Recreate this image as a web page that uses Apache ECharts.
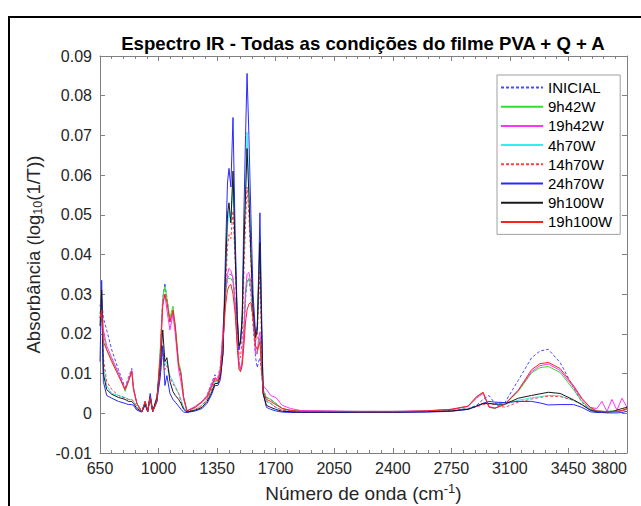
<!DOCTYPE html>
<html><head><meta charset="utf-8">
<script src="https://cdn.jsdelivr.net/npm/echarts@6/dist/echarts.min.js"></script>
<style>html,body{margin:0;padding:0;background:#fff}#c{width:641px;height:506px}</style>
</head><body><div id="c"></div>
<script>
// wavenumber grid (cm-1)
const wn = [
650,660,670,690,720,760,800,820,840,850,
870,900,920,935,950,965,990,1010,1025,1038,
1050,1068,1086,1100,1120,1134,1150,1170,1220,1260,
1290,1315,1337,1355,1370,1385,1400,1412,1421,1432,
1445,1458,1470,1481,1490,1500,1510,1520,1529,1540,
1552,1565,1580,1590,1598,1606,1614,1625,1645,1670,
1700,1740,1790,1850,2000,2200,2400,2600,2750,2850,
2900,2940,2975,3010,3070,3150,3230,3280,3330,3400,
3480,3530,3580,3620,3650,3680,3710,3740,3770,3800];

const inicial = [
0.027,0.029,0.024,0.021,0.016,0.011,0.0065,0.009,0.0113,0.006,
0.0025,0.0004,0.003,0.0005,0.0045,0.0005,0.003,0.015,0.029,0.0328,
0.029,0.023,0.0255,0.021,0.012,0.0095,0.004,0.0006,0.0015,0.003,
0.0045,0.0075,0.0097,0.009,0.012,0.02,0.03,0.034,0.035,0.035,
0.034,0.028,0.019,0.013,0.011,0.013,0.02,0.029,0.033,0.034,
0.030,0.022,0.014,0.0115,0.013,0.014,0.011,0.006,0.004,0.0035,
0.0025,0.0012,0.0007,0.0005,0.0005,0.0004,0.0004,0.0005,0.0008,0.0012,
0.002,0.0035,0.0045,0.0025,0.0027,0.0083,0.014,0.0157,0.0161,0.0128,
0.0065,0.0028,0.001,0.0005,0.0005,0.0004,0.0005,0.0004,0.0006,0.001];

const h9w42 = [
0.025,0.029,0.02,0.016,0.0135,0.010,0.0055,0.008,0.0105,0.0065,
0.0025,0.0004,0.003,0.0005,0.004,0.0005,0.003,0.016,0.029,0.032,
0.029,0.024,0.027,0.022,0.013,0.0105,0.004,0.0006,0.0015,0.003,
0.0042,0.0068,0.0088,0.0082,0.011,0.02,0.03,0.034,0.034,0.034,
0.033,0.027,0.018,0.012,0.0105,0.013,0.02,0.03,0.033,0.034,
0.032,0.025,0.016,0.015,0.017,0.019,0.013,0.006,0.004,0.0035,
0.0025,0.0012,0.0008,0.0006,0.0005,0.0005,0.0005,0.0006,0.001,0.0018,
0.004,0.0053,0.0015,0.0012,0.0022,0.0055,0.0102,0.0115,0.0118,0.0103,
0.006,0.003,0.0012,0.0006,0.0005,0.0005,0.0006,0.0005,0.0007,0.0012];

const h19w42 = [
0.027,0.028,0.021,0.017,0.014,0.0102,0.006,0.0085,0.0108,0.0065,
0.0025,0.0004,0.003,0.0005,0.004,0.0005,0.003,0.014,0.028,0.030,
0.026,0.021,0.025,0.02,0.011,0.008,0.0035,0.0006,0.0018,0.003,
0.0045,0.007,0.009,0.0085,0.0115,0.021,0.031,0.035,0.0365,0.036,
0.034,0.028,0.019,0.013,0.011,0.013,0.021,0.031,0.035,0.0355,
0.033,0.026,0.015,0.015,0.019,0.0205,0.015,0.007,0.006,0.0045,
0.004,0.002,0.0012,0.0007,0.0006,0.0005,0.0005,0.0006,0.001,0.0017,
0.0038,0.005,0.0017,0.0013,0.0023,0.0058,0.0105,0.012,0.0124,0.0108,
0.0066,0.0035,0.0015,0.0012,0.003,0.0005,0.0035,0.0008,0.0038,0.0015];

const h4w70 = [
0.025,0.028,0.012,0.007,0.005,0.0045,0.004,0.0035,0.0035,0.003,
0.0018,0.0004,0.0028,0.0005,0.004,0.0005,0.004,0.010,0.017,0.012,
0.013,0.0095,0.008,0.0068,0.005,0.0035,0.0015,0.0004,0.001,0.002,
0.0035,0.0055,0.008,0.0078,0.010,0.016,0.033,0.047,0.051,0.048,
0.058,0.042,0.024,0.017,0.018,0.023,0.04,0.056,0.0708,0.058,
0.042,0.026,0.019,0.021,0.033,0.045,0.025,0.006,0.003,0.0025,
0.0015,0.0008,0.0005,0.0004,0.0004,0.0004,0.0004,0.0005,0.0007,0.0012,
0.0018,0.0025,0.0025,0.0022,0.0022,0.0033,0.0039,0.0042,0.0045,0.0044,
0.0032,0.0022,0.0008,0.0005,0.0004,0.0005,0.0004,0.0005,0.0007,0.001];

const h14w70 = [
0.024,0.027,0.014,0.008,0.006,0.0045,0.0038,0.0035,0.0035,0.003,
0.0018,0.0004,0.0028,0.0005,0.004,0.0005,0.004,0.010,0.016,0.011,
0.012,0.009,0.0075,0.0065,0.005,0.003,0.0012,0.0004,0.001,0.002,
0.0035,0.0058,0.0082,0.008,0.0105,0.017,0.03,0.042,0.045,0.044,
0.051,0.038,0.022,0.015,0.014,0.019,0.035,0.048,0.057,0.05,
0.038,0.024,0.018,0.019,0.028,0.036,0.02,0.005,0.003,0.0025,
0.0015,0.0008,0.0005,0.0004,0.0004,0.0004,0.0004,0.0005,0.0007,0.0011,
0.0016,0.0022,0.0024,0.0022,0.0015,0.0028,0.0036,0.004,0.0043,0.0042,
0.0033,0.0022,0.0008,0.0004,0.0004,0.0005,0.0004,0.0004,0.0006,0.001];

const h24w70 = [
0.013,0.0335,0.008,0.0045,0.0038,0.003,0.0025,0.0022,0.0022,0.002,
0.0008,0.0003,0.002,0.0004,0.005,0.0004,0.003,0.009,0.017,0.007,
0.0095,0.005,0.0035,0.0028,0.0018,0.001,0.0003,0.0002,0.0006,0.0012,
0.0025,0.0045,0.007,0.007,0.0085,0.015,0.04,0.058,0.0617,0.057,
0.0745,0.045,0.025,0.016,0.018,0.025,0.05,0.07,0.0856,0.07,
0.05,0.03,0.02,0.022,0.035,0.0505,0.03,0.005,0.0015,0.001,
0.0006,0.0003,0.0002,0.0002,0.0002,0.0002,0.0002,0.0003,0.0005,0.001,
0.0018,0.0025,0.003,0.0028,0.0027,0.003,0.003,0.0026,0.0021,0.0022,
0.0022,0.0015,0.0004,0.0002,0.0002,0.0001,0.0001,0.0001,0.0002,0.0005];

const h9w100 = [
0.022,0.031,0.010,0.006,0.0048,0.004,0.0035,0.003,0.003,0.0025,
0.0012,0.0004,0.0025,0.0005,0.004,0.0005,0.004,0.012,0.021,0.013,
0.014,0.008,0.0055,0.0045,0.0035,0.0025,0.001,0.0003,0.0008,0.0015,
0.003,0.005,0.0075,0.0075,0.0095,0.015,0.035,0.05,0.053,0.048,
0.061,0.04,0.024,0.017,0.018,0.024,0.042,0.055,0.0667,0.055,
0.04,0.026,0.019,0.021,0.032,0.043,0.025,0.005,0.002,0.0015,
0.001,0.0005,0.0004,0.0003,0.0003,0.0003,0.0003,0.0004,0.0006,0.001,
0.0018,0.0025,0.0025,0.0023,0.0023,0.0038,0.0045,0.0049,0.0053,0.005,
0.0034,0.0022,0.0008,0.0004,0.0004,0.0003,0.0004,0.0008,0.0012,0.0015];

const h19w100 = [
0.024,0.026,0.018,0.016,0.013,0.0095,0.006,0.008,0.0105,0.006,
0.0025,0.0004,0.003,0.0005,0.004,0.0005,0.003,0.014,0.027,0.030,
0.028,0.023,0.026,0.022,0.012,0.010,0.004,0.0006,0.0015,0.0028,
0.004,0.0065,0.0088,0.008,0.0105,0.018,0.027,0.031,0.032,0.0325,
0.030,0.025,0.017,0.011,0.0105,0.012,0.017,0.023,0.026,0.0275,
0.028,0.024,0.017,0.016,0.017,0.018,0.012,0.0055,0.0035,0.003,
0.0022,0.0012,0.0007,0.0005,0.0005,0.0004,0.0004,0.0006,0.001,0.0018,
0.0042,0.0053,0.0016,0.0013,0.0023,0.0058,0.011,0.0125,0.0128,0.0113,
0.007,0.0038,0.0015,0.0006,0.0005,0.0004,0.0005,0.0005,0.0007,0.0012];

const seriesNames = ['INICIAL','9h42W','19h42W','4h70W','14h70W','24h70W','9h100W','19h100W'];
const seriesValues = [inicial,h9w42,h19w42,h4w70,h14w70,h24w70,h9w100,h19w100];
const seriesColors = ['#4a4aff','#33dd33','#ff33ff','#33eeee','#ff4040','#2a2aff','#1a1a1a','#ff2020'];
const seriesDash = [[3,2],'solid','solid','solid',[3,2],'solid','solid','solid'];

const xTicks = [650,1000,1350,1700,2050,2400,2750,3100,3450,3800];
const xMinor = [];
for (let v = 650; v <= 3800; v += 70) xMinor.push(v);

const AX = '#808080', TX = '#262626', FONT = '"Liberation Sans", Arial, sans-serif';
const chart = echarts.init(document.getElementById('c'), null, {renderer:'svg'});

function xAx(pos, ticks, len, showLine, showLabel, extra) {
  return Object.assign({
    type:'value', min:650, max:3800, position:pos,
    axisLine:{show:showLine, onZero:false, lineStyle:{color:AX, width:1}},
    axisTick:{show:true, inside:true, length:len, customValues:ticks, lineStyle:{color:AX}},
    axisLabel:{show:showLabel, customValues:ticks, color:TX, fontSize:16, fontFamily:FONT, margin:7,
      alignMaxLabel:'right', formatter:v=>String(v)},
    splitLine:{show:false}
  }, extra||{});
}

chart.setOption({
  animation:false,
  backgroundColor:'#fff',
  grid:{left:100, right:14, top:56, bottom:53, containLabel:false, outerBoundsMode:'none'},
  graphic:[
    {type:'rect', shape:{x:9, y:17, width:700, height:600}, style:{fill:'none', stroke:'#000', lineWidth:2}, z:100},
    {type:'text', style:{x:363, y:53, text:'Espectro IR - Todas as condições do filme PVA + Q + A', textAlign:'center', textVerticalAlign:'bottom', font:'bold 18.6px '+FONT, fill:'#000'}}
  ],
  legend:{
    orient:'vertical', left:497, top:75, itemWidth:42, itemHeight:10, itemGap:4.2, itemTextGap:5,
    padding:[5,8,5,3], borderColor:'#a0a0a0', borderWidth:1, backgroundColor:'#fff',
    itemStyle:{opacity:0},
    textStyle:{fontSize:15, color:'#000', fontFamily:FONT},
    data:seriesNames
  },
  xAxis:[
    xAx('bottom', xTicks, 5, true, true, {
      name:'Número de onda (cm{sup|-1})', nameLocation:'middle', nameGap:29,
      nameTextStyle:{fontSize:19, color:TX, fontFamily:FONT,
        rich:{sup:{fontSize:13, color:TX, fontFamily:FONT, verticalAlign:'bottom', padding:[0,0,10,0]}}}
    }),
    xAx('top', xTicks, 5, true, false),
    xAx('bottom', xMinor, 3, false, false),
    xAx('top', xMinor, 3, false, false)
  ],
  yAxis:[
    {type:'value', min:-0.01, max:0.09, interval:0.01, position:'left',
     axisLine:{show:true, onZero:false, lineStyle:{color:AX}},
     axisTick:{show:true, inside:true, length:5, lineStyle:{color:AX}},
     axisLabel:{color:TX, fontSize:16, fontFamily:FONT, margin:8,
       formatter:v=>{const r=Math.round(v*100)/100; return r===0?'0':r.toFixed(2);}},
     splitLine:{show:false},
     name:'Absorbância (log{sub|10}(1/T))', nameLocation:'middle', nameGap:54, nameRotate:90,
     nameTextStyle:{fontSize:18.5, color:TX, fontFamily:FONT,
       rich:{sub:{fontSize:12.5, color:TX, fontFamily:FONT, verticalAlign:'top', padding:[9,0,0,0]}}}
    },
    {type:'value', min:-0.01, max:0.09, interval:0.01, position:'right',
     axisLine:{show:true, onZero:false, lineStyle:{color:AX}},
     axisTick:{show:true, inside:true, length:5, lineStyle:{color:AX}},
     axisLabel:{show:false}, splitLine:{show:false}}
  ],
  series: seriesNames.map((n,k)=>({
    name:n, type:'line', xAxisIndex:0, yAxisIndex:0, symbol:'none', smooth:false,
    lineStyle:{color:seriesColors[k], width:1, type:seriesDash[k]},
    itemStyle:{color:seriesColors[k]},
    data: wn.map((x,i)=>[x, seriesValues[k][i]])
  }))
});
</script></body></html>
